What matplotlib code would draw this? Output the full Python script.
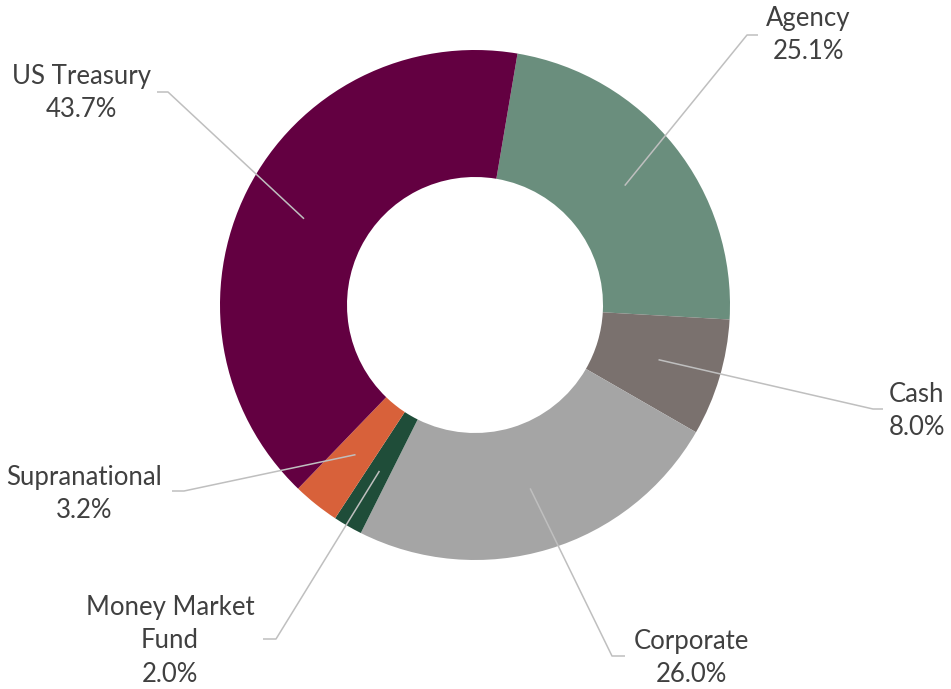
import numpy as np
import matplotlib
matplotlib.use("Agg")
import matplotlib.pyplot as plt

# Portfolio sectors, clockwise from the top
sectors = ["Agency", "Cash", "Corporate", "Money Market\nFund", "Supranational", "US Treasury"]
shares = [25.1, 8.0, 26.0, 2.0, 3.2, 43.7]
colors = ["#6A8E7D", "#7A716E", "#A5A5A5", "#1F4D39", "#D8613A", "#630041"]

# label layout in pixel coords (y measured from the top): text centre, elbow, line end
label_pos = {
    "Agency": ((808, 35), (747, 35), (758, 35)),
    "Cash": ((917, 411), (873, 409), (883, 409)),
    "Corporate": ((691, 658), (612, 656), (625, 656)),
    "Money Market\nFund": ((170, 641), (276, 639), (263, 639)),
    "Supranational": ((84, 494), (184, 491), (172, 491)),
    "US Treasury": ((81, 93), (168, 92), (157, 92)),
}

W, H = 951, 689
cx, cy = 475, H - 305
R, ring = 255, 127

plt.rcParams["font.family"] = ["Lato", "DejaVu Sans"]

fig = plt.figure(figsize=(W / 100, H / 100), dpi=100)
ax = fig.add_axes([0, 0, 1, 1])
wedges, _ = ax.pie(
    shares,
    colors=colors,
    startangle=80.4,
    counterclock=False,
    radius=R,
    center=(cx, cy),
    wedgeprops=dict(width=ring, linewidth=0),
    frame=True,
)
ax.set_xlim(0, W)
ax.set_ylim(0, H)
ax.set_aspect("equal")
ax.axis("off")

mid_r = R - ring / 2
for w, name, val in zip(wedges, sectors, shares):
    ang = np.deg2rad((w.theta1 + w.theta2) / 2)
    ax_, ay_ = cx + mid_r * np.cos(ang), cy + mid_r * np.sin(ang)
    (tx, ty), (ex, ey), (hx, hy) = label_pos[name]
    ax.plot([ax_, ex, hx], [ay_, H - ey, H - hy], color="#BFBFBF", lw=1.1,
            solid_capstyle="butt")
    ax.text(tx, H - ty, f"{name}\n{val:.1f}%", ha="center", va="center",
            fontsize=18.5, color="#404040", linespacing=1.42)

fig.savefig("out.png", dpi=100)
plt.close(fig)
